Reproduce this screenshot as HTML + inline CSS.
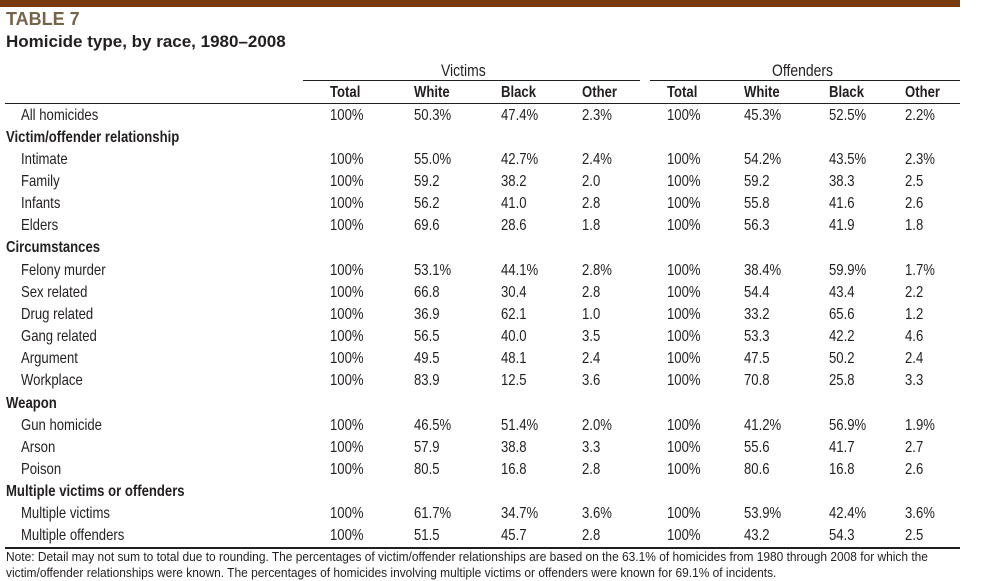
<!DOCTYPE html>
<html><head><meta charset="utf-8"><style>
body{margin:0;width:991px;height:578px;background:#fff;position:relative;overflow:hidden;font-family:"Liberation Sans",sans-serif;color:#231f20}
.a{position:absolute;white-space:nowrap;font-size:16px;line-height:18px;transform:scaleX(0.82);transform-origin:0 50%}
.b{font-weight:bold}
.l{position:absolute;height:1px;background:#231f20}
</style></head><body>
<div style="position:absolute;left:0;top:0;width:960px;height:7px;background:#7a3a10"></div>
<div class="a b" style="left:6px;top:10px;font-size:18px;color:#756447;transform:none">TABLE 7</div>
<div class="a b" style="left:6px;top:33px;font-size:17px;transform:none">Homicide type, by race, 1980–2008</div>
<div class="a" style="left:441px;top:62px;font-size:17px">Victims</div>
<div class="a" style="left:772px;top:62px;font-size:17px">Offenders</div>
<div class="l" style="left:303px;top:80px;width:337px"></div>
<div class="l" style="left:650px;top:80px;width:310px"></div>
<div class="l" style="left:5px;top:103px;width:955px"></div>
<div class="l" style="left:5px;top:547px;width:955px;height:2px"></div>
<div id="t"></div>
<div class="a" style="left:6px;top:549px;font-size:12.5px;line-height:16px;transform:scaleX(0.955)">Note: Detail may not sum to total due to rounding. The percentages of victim/offender relationships are based on the 63.1% of homicides from 1980 through 2008 for which the<br>victim/offender relationships were known. The percentages of homicides involving multiple victims or offenders were known for 69.1% of incidents.</div>
<script>
var cols=[330,414,501,582,667,744,829,905];
var H=["Total","White","Black","Other","Total","White","Black","Other"];
var out="";
H.forEach(function(h,i){out+='<div class="a b" style="left:'+cols[i]+'px;top:84px">'+h+'</div>';});
var R=[
[115,"All homicides",1,"100%|50.3%|47.4%|2.3%|100%|45.3%|52.5%|2.2%"],
[137,"Victim/offender relationship",2],
[159,"Intimate",0,"100%|55.0%|42.7%|2.4%|100%|54.2%|43.5%|2.3%"],
[181,"Family",0,"100%|59.2|38.2|2.0|100%|59.2|38.3|2.5"],
[203,"Infants",0,"100%|56.2|41.0|2.8|100%|55.8|41.6|2.6"],
[225,"Elders",0,"100%|69.6|28.6|1.8|100%|56.3|41.9|1.8"],
[247,"Circumstances",2],
[270,"Felony murder",0,"100%|53.1%|44.1%|2.8%|100%|38.4%|59.9%|1.7%"],
[292,"Sex related",0,"100%|66.8|30.4|2.8|100%|54.4|43.4|2.2"],
[314,"Drug related",0,"100%|36.9|62.1|1.0|100%|33.2|65.6|1.2"],
[336,"Gang related",0,"100%|56.5|40.0|3.5|100%|53.3|42.2|4.6"],
[358,"Argument",0,"100%|49.5|48.1|2.4|100%|47.5|50.2|2.4"],
[380,"Workplace",0,"100%|83.9|12.5|3.6|100%|70.8|25.8|3.3"],
[403,"Weapon",2],
[425,"Gun homicide",0,"100%|46.5%|51.4%|2.0%|100%|41.2%|56.9%|1.9%"],
[447,"Arson",0,"100%|57.9|38.8|3.3|100%|55.6|41.7|2.7"],
[469,"Poison",0,"100%|80.5|16.8|2.8|100%|80.6|16.8|2.6"],
[491,"Multiple victims or offenders",2],
[513,"Multiple victims",0,"100%|61.7%|34.7%|3.6%|100%|53.9%|42.4%|3.6%"],
[535,"Multiple offenders",0,"100%|51.5|45.7|2.8|100%|43.2|54.3|2.5"]];
R.forEach(function(r){
 var y=r[0]-8;
 if(r[2]==2) out+='<div class="a b" style="left:6px;top:'+y+'px">'+r[1]+'</div>';
 else out+='<div class="a" style="left:21px;top:'+y+'px">'+r[1]+'</div>';
 if(r[3]) r[3].split("|").forEach(function(v,i){out+='<div class="a" style="left:'+cols[i]+'px;top:'+y+'px">'+v+'</div>';});
});
document.getElementById("t").innerHTML=out;
</script>
</body></html>
